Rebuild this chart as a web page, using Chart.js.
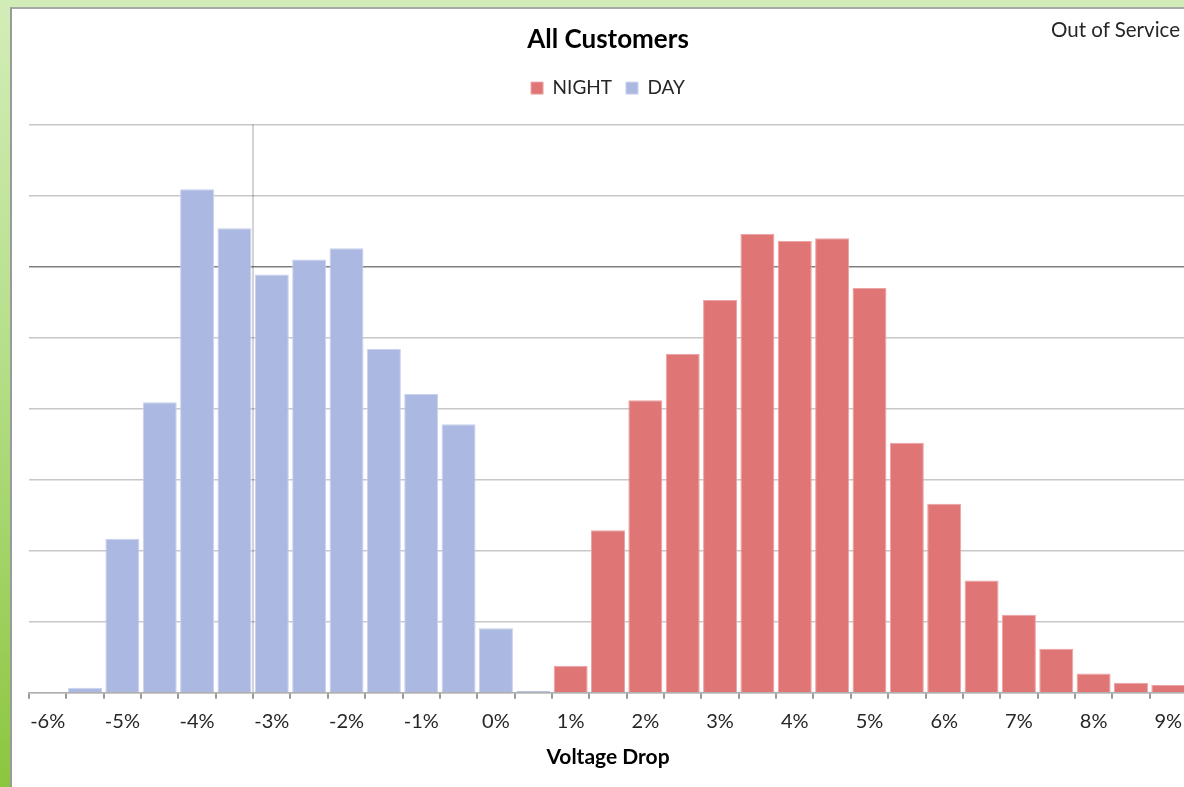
<!DOCTYPE html>
<html>
<head>
<meta charset="utf-8">
<title>All Customers</title>
<script src="https://cdn.jsdelivr.net/npm/chart.js@4"></script>
<style>
  html, body { margin: 0; padding: 0; }
  body {
    width: 1184px;
    height: 787px;
    overflow: hidden;
    position: relative;
    background: linear-gradient(to bottom, #d3edb8 0%, #b5df8a 45%, #8cc63f 100%);
    font-family: Lato, "Noto Sans", sans-serif;
  }
  .topband {
    position: absolute; left: 0; top: 0; width: 100%; height: 7px;
    background: #d1ecb6;
  }
  .panel {
    position: absolute; left: 10px; top: 7px; width: 1210px; height: 800px;
    background: #fff;
    border-left: 2px solid #9a9a9a;
    border-top: 2px solid #a8a8a8;
  }
  .wrap { position: absolute; left: 0; top: 0; width: 1190px; height: 778px; }
  .tag {
    position: absolute; right: 42px; top: 8px;
    font-size: 20.5px; line-height: 24px; color: #262626;
  }
</style>
</head>
<body>
<div class="topband"></div>
<div class="panel">
  <div class="wrap"><canvas id="chartVoltaje"></canvas></div>
  <div class="tag">Out of Service</div>
</div>
<script>
// Bins de caída de tensión (%), cada 0.5
const bins = [-6, -5.5, -5, -4.5, -4, -3.5, -3, -2.5, -2, -1.5, -1, -0.5, 0, 0.5,
  1, 1.5, 2, 2.5, 3, 3.5, 4, 4.5, 5, 5.5, 6, 6.5, 7, 7.5, 8, 8.5, 9];

// Frecuencia por bin (unidades de la cuadrícula)
const nocheValores = [null, null, null, null, null, null, null, null, null, null, null, null, null, null,
  0.38, 2.29, 4.12, 4.77, 5.53, 6.46, 6.36, 6.40, 5.70, 3.52, 2.66, 1.58, 1.10, 0.62, 0.27, 0.14, 0.11];
const diaValores = [null, 0.07, 2.17, 4.09, 7.09, 6.54, 5.89, 6.10, 6.26, 4.84, 4.21, 3.78, 0.91, 0.03,
  null, null, null, null, null, null, null, null, null, null, null, null, null, null, null, null, null];

// Eje Y sin etiquetas, línea de referencia en 6
const yMax = 8;
const lineaRef = 6;
// Línea vertical en el borde del bin -3%
const binMarcado = 6;

const etiquetas = bins.map((b) => b + "%");

// Espacio extra debajo de la leyenda
const espacioLeyenda = {
  id: "espacioLeyenda",
  beforeInit(chart) {
    const fitOriginal = chart.legend.fit;
    chart.legend.fit = function () {
      fitOriginal.bind(chart.legend)();
      this.height += 17;
    };
  },
};

const ctx = document.getElementById("chartVoltaje").getContext("2d");

new Chart(ctx, {
  type: "bar",
  plugins: [espacioLeyenda],
  data: {
    labels: etiquetas,
    datasets: [
      {
        label: "NIGHT",
        data: nocheValores,
        backgroundColor: "#e07575",
        borderColor: "#eba3a3",
        borderWidth: 1,
        grouped: false,
      },
      {
        label: "DAY",
        data: diaValores,
        backgroundColor: "#abb8e1",
        borderColor: "#c9d2ee",
        borderWidth: 1,
        grouped: false,
      },
    ],
  },
  options: {
    responsive: true,
    maintainAspectRatio: false,
    animation: false,
    datasets: {
      bar: { categoryPercentage: 1, barPercentage: 0.91 },
    },
    layout: { padding: { left: 17, right: 15, top: 0, bottom: 17 } },
    plugins: {
      title: {
        display: true,
        text: "All Customers",
        color: "#000",
        font: { family: "Lato", size: 26, weight: "bold" },
        padding: { top: 15.4, bottom: 9 },
      },
      legend: {
        position: "top",
        labels: {
          color: "#262626",
          font: { family: "Lato", size: 19 },
          boxWidth: 12,
          boxHeight: 12,
          padding: 14,
        },
      },
      tooltip: { enabled: false },
    },
    scales: {
      x: {
        grid: {
          offset: true,
          color: (c) => (c.index === binMarcado ? "#d4d4d4" : "rgba(0,0,0,0)"),
          lineWidth: 2,
          tickColor: "#9a9a9a",
          tickLength: 6,
        },
        border: { color: "#b0b0b0", width: 1.5 },
        ticks: {
          autoSkip: false,
          maxRotation: 0,
          color: "#262626",
          font: { family: "Lato", size: 20 },
          padding: 11,
          callback: function (val, i) {
            return i % 2 === 0 ? this.getLabelForValue(val) : "";
          },
        },
        title: {
          display: true,
          text: "Voltage Drop",
          color: "#000",
          font: { family: "Lato", size: 21, weight: "bold" },
          padding: { top: 0, bottom: 0 },
        },
      },
      y: {
        z: 1,
        min: 0,
        max: yMax,
        ticks: { display: false, stepSize: 1 },
        border: { display: false },
        grid: {
          drawTicks: false,
          lineWidth: 1.5,
          color: (c) => (c.tick.value === lineaRef ? "rgba(0,0,0,0.5)" : "rgba(0,0,0,0.22)"),
        },
      },
    },
  },
});
</script>
</body>
</html>
